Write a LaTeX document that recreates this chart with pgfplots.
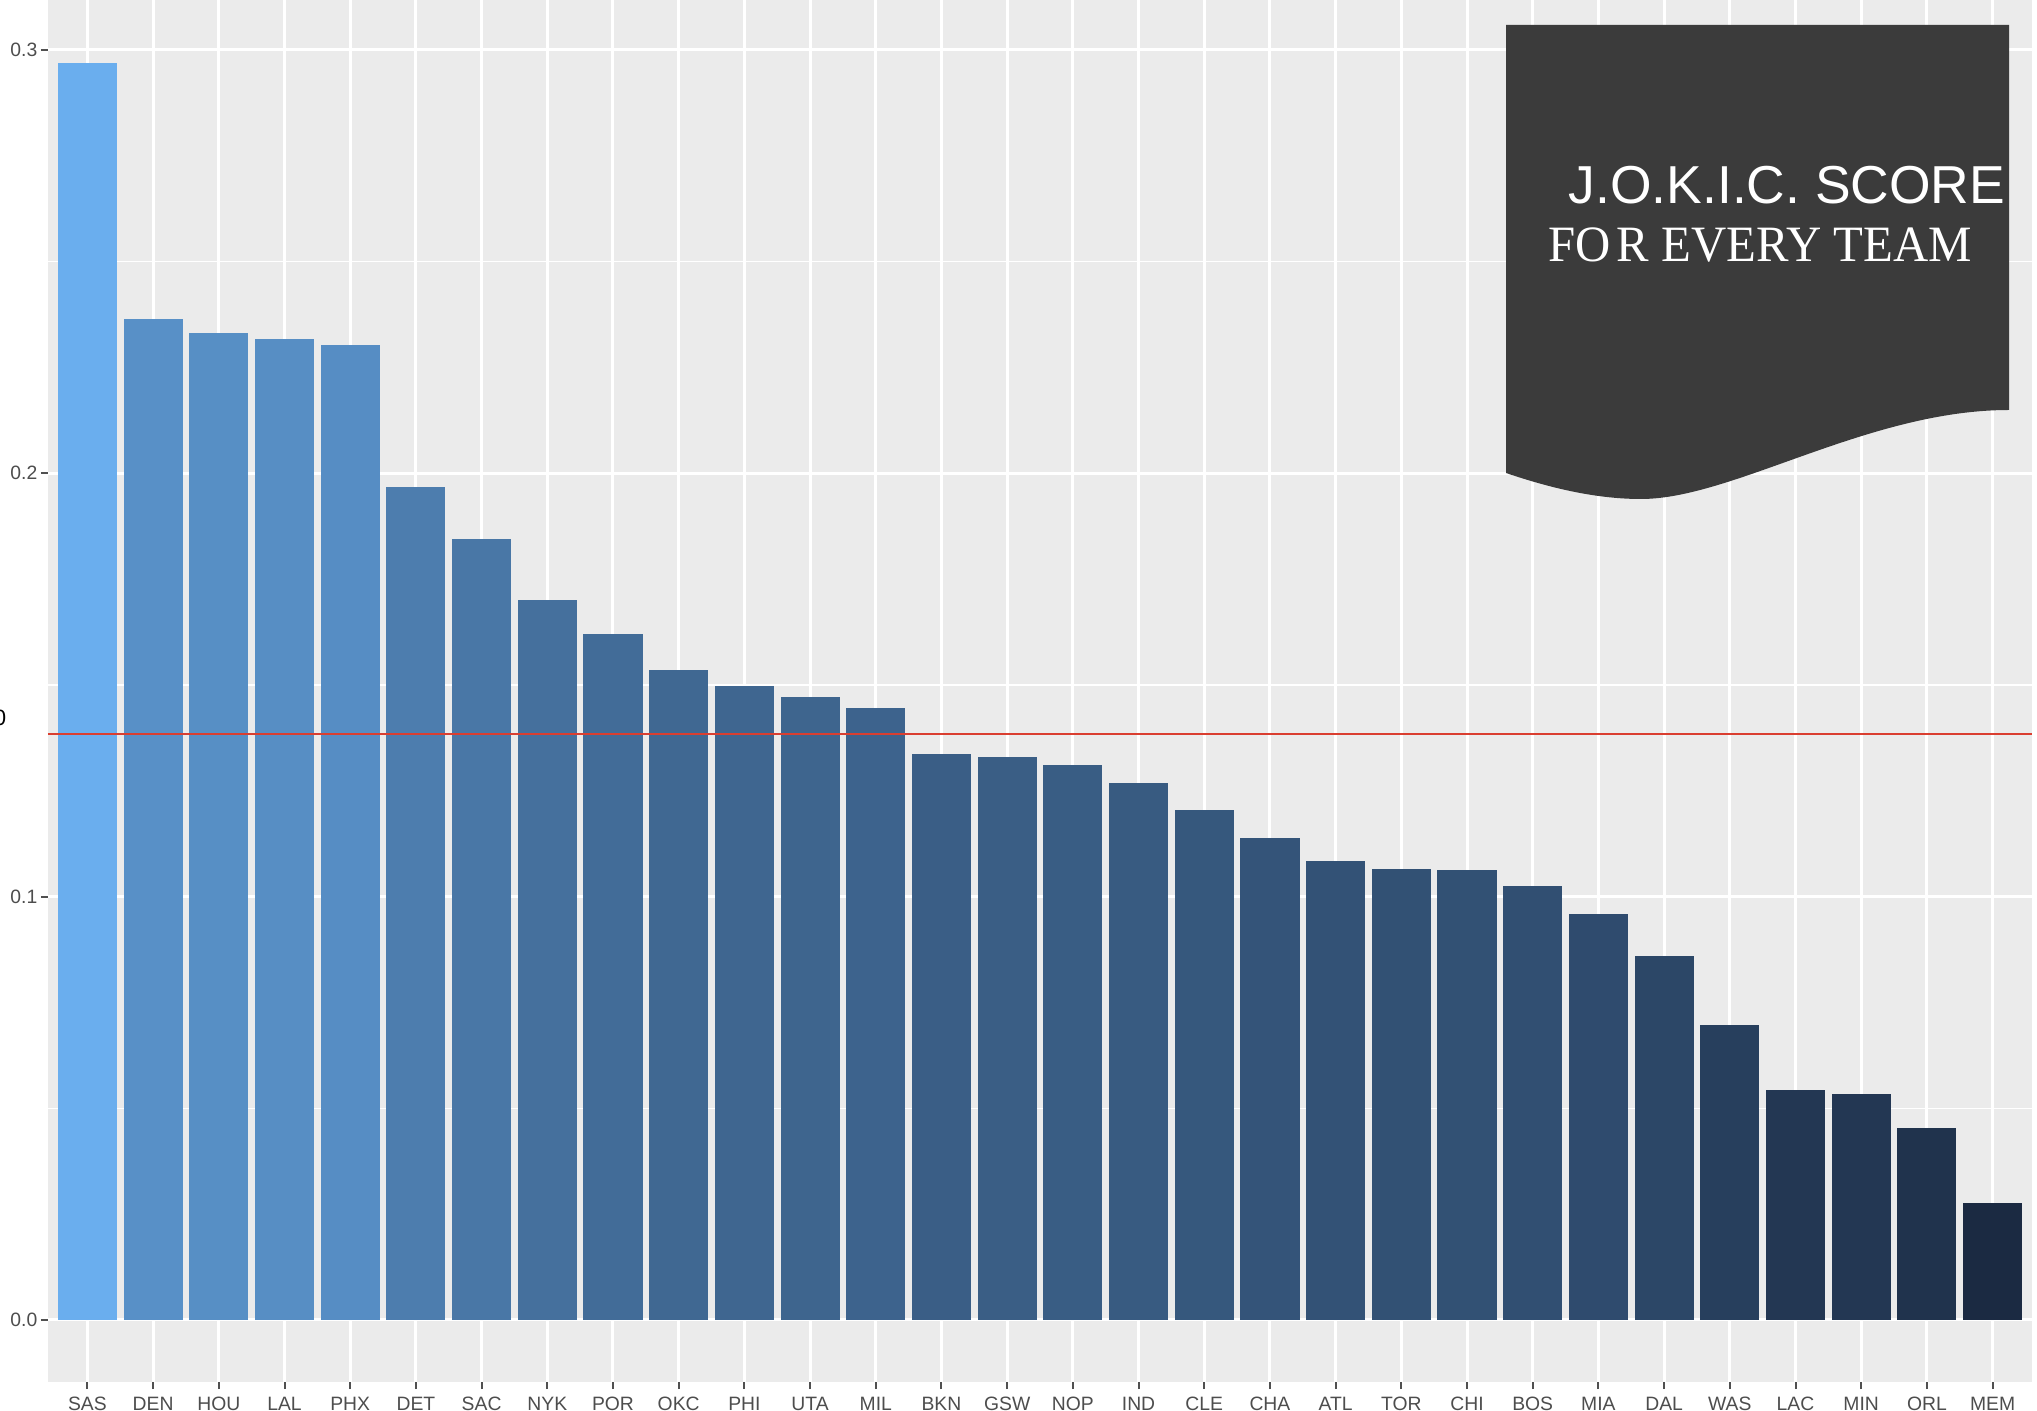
\documentclass[border=0pt]{standalone}
\usepackage{fontspec}
\setmainfont{Liberation Sans}
\newfontfamily\seriffont{Liberation Serif}
\usepackage{pgfplots}
\pgfplotsset{compat=1.18}

\definecolor{hi}{RGB}{106,174,238}
\definecolor{lo}{RGB}{27,42,66}
\definecolor{panelgrey}{RGB}{235,235,235}
\definecolor{labgrey}{RGB}{77,77,77}
\definecolor{tickgrey}{RGB}{80,80,80}
\definecolor{boxgrey}{RGB}{59,59,59}
\definecolor{meanred}{RGB}{218,62,48}

% one bar: x position, value, share of the light colour (in %)
\newcommand\teambar[3]{\addplot[ybar, bar width=0.9, draw=none, fill=hi!#3!lo] coordinates {(#1,#2)};}

\begin{document}
\begin{tikzpicture}
\begin{axis}[
    at={(0,0)}, anchor=south west,
    scale only axis,
    width=19.84cm, height=13.82cm,
    xmin=-0.6, xmax=29.6,
    ymin=-0.01465, ymax=0.3118,
    axis background/.style={fill=panelgrey},
    axis line style={draw=none},
    xtick={0,...,29},
    xticklabels={SAS,DEN,HOU,LAL,PHX,DET,SAC,NYK,POR,OKC,PHI,UTA,MIL,BKN,GSW,NOP,IND,CLE,CHA,ATL,TOR,CHI,BOS,MIA,DAL,WAS,LAC,MIN,ORL,MEM},
    ytick={0,0.1,0.2,0.3},
    minor ytick={0.05,0.15,0.25},
    y tick label style={xshift=-0.03cm, /pgf/number format/.cd, fixed, fixed zerofill, precision=1, assume math mode=true},
    tick pos=left,
    tick align=outside,
    major tick length=0.07cm,
    minor tick length=0pt,
    tick style={color=tickgrey, line width=0.02cm},
    ticklabel style={font=\fontsize{5.5}{6}\selectfont, text=labgrey, inner sep=0pt},
    x tick label style={yshift=-0.07cm},
    xmajorgrids, ymajorgrids, yminorgrids,
    major grid style={white, line width=0.03cm},
    minor grid style={white, line width=0.015cm},
]
\teambar{0}{0.2969}{100}
\teambar{1}{0.2364}{77.5}
\teambar{2}{0.2331}{76.3}
\teambar{3}{0.2318}{75.8}
\teambar{4}{0.2303}{75.3}
\teambar{5}{0.1968}{62.8}
\teambar{6}{0.1845}{58.3}
\teambar{7}{0.1701}{52.9}
\teambar{8}{0.1621}{49.9}
\teambar{9}{0.1535}{46.8}
\teambar{10}{0.1498}{45.4}
\teambar{11}{0.1471}{44.4}
\teambar{12}{0.1446}{43.4}
\teambar{13}{0.1336}{39.4}
\teambar{14}{0.1330}{39.1}
\teambar{15}{0.1311}{38.4}
\teambar{16}{0.1268}{36.8}
\teambar{17}{0.1204}{34.5}
\teambar{18}{0.1139}{32.0}
\teambar{19}{0.1084}{30.0}
\teambar{20}{0.1066}{29.3}
\teambar{21}{0.1062}{29.2}
\teambar{22}{0.1026}{27.8}
\teambar{23}{0.0958}{25.3}
\teambar{24}{0.0860}{21.7}
\teambar{25}{0.0697}{15.6}
\teambar{26}{0.0543}{9.9}
\teambar{27}{0.0534}{9.6}
\teambar{28}{0.0454}{6.6}
\teambar{29}{0.0276}{0}
% average line
\addplot[sharp plot, meanred, line width=0.028cm] coordinates {(-0.6,0.1384) (29.6,0.1384)};
\end{axis}

% title banner
\fill[boxgrey] (14.58,13.57) -- (19.61,13.57) -- (19.61,9.72)
  .. controls (18.2,9.72) and (16.85,8.83) .. (15.93,8.83)
  .. controls (15.5,8.83) and (15.05,8.93) .. (14.58,9.09) -- cycle;
\node[anchor=base west, inner sep=0pt, text=white, font=\fontsize{15.2}{16}\selectfont] at (15.20,11.78) {J.O.K.I.C. SCORE};
\node[anchor=base west, inner sep=0pt, text=white, font=\seriffont\fontsize{14.5}{16}\selectfont] at (15.00,11.20) {\scalebox{0.957}[1]{FO\hspace{0.12em}R EVERY TEAM}};

% cut-off axis title at the left edge
\node[anchor=east, inner sep=0pt, font=\fontsize{6.3}{7}\selectfont] at (-0.41,6.64) {0};

\pgfresetboundingbox
\useasboundingbox (-0.48,-0.29) rectangle (19.89,13.82);
\end{tikzpicture}
\end{document}
